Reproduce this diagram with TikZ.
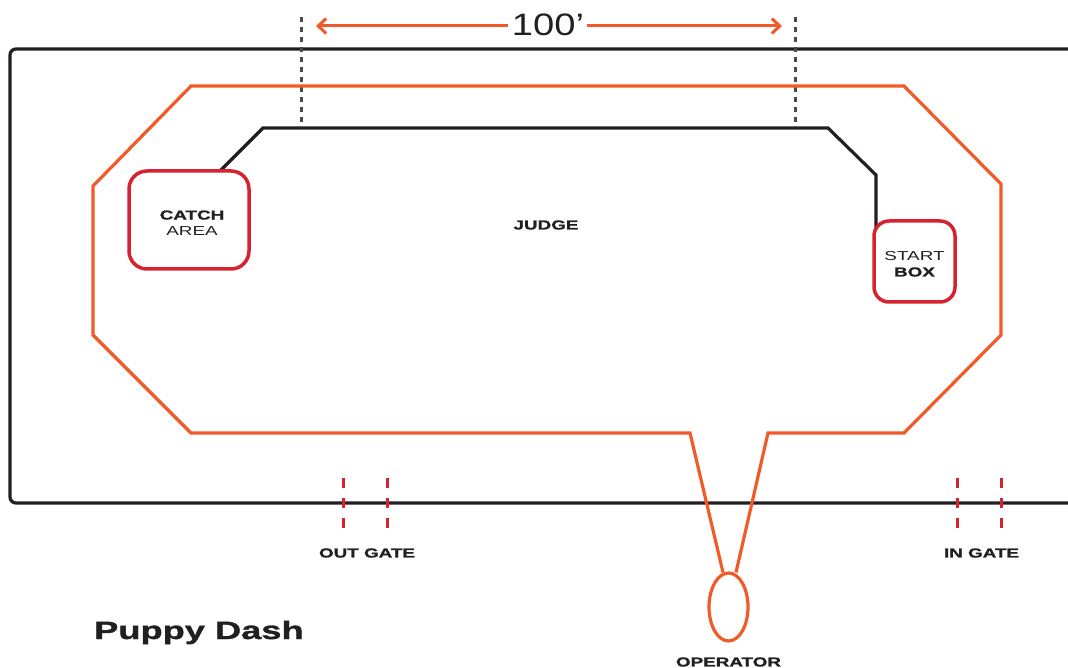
\documentclass[tikz,border=0pt]{standalone}
\usepackage{fontspec}
\setmainfont{Liberation Sans}
\newfontfamily\wide{Liberation Sans}[FakeStretch=1.45,BoldFeatures={FakeBold=1.2}]
\newfontfamily\widenum{Liberation Sans}[FakeStretch=1.23]
\usetikzlibrary{arrows.meta,shapes.geometric}
\definecolor{courseorange}{HTML}{F15A29}
\definecolor{boxred}{HTML}{D6232F}
\definecolor{ink}{HTML}{231F20}
\definecolor{dotgray}{HTML}{4A4A4A}
\begin{document}
\begin{tikzpicture}[x=1pt,y=-1pt,
  fieldline/.style={draw=ink,line width=3.2pt},
  courseline/.style={draw=courseorange,line width=3.2pt,line join=miter},
  lureline/.style={draw=ink,line width=3.2pt,line join=miter},
  areabox/.style={draw=boxred,line width=3.5pt,rounded corners=18pt,fill=white,inner sep=0pt},
  boxtext/.style={align=center,text=ink,inner sep=0pt,font=\wide\fontsize{13}{16}\selectfont},
  dotline/.style={draw=dotgray,line width=3pt,dash pattern=on 5pt off 5pt},
  gateline/.style={draw=boxred,line width=3pt,dash pattern=on 10pt off 10pt},
  lbl/.style={text=ink,inner sep=0pt,font=\wide\bfseries\fontsize{13}{16}\selectfont},
  dimarrow/.style={draw=courseorange,line width=3pt,-{Straight Barb[length=8pt,width=15pt]}}
]
\useasboundingbox (0,0) rectangle (1068,668);
\fill[white] (0,0) rectangle (1068,668);
\clip (0,0) rectangle (1068,668);

% field fence
\draw[fieldline,rounded corners=6pt] (1090,49) -- (10,49) -- (10,503) -- (1090,503);

% dimension guides
\coordinate (g1t) at (301,17); \coordinate (g1b) at (301,128);
\coordinate (g2t) at (795,17); \coordinate (g2b) at (795,128);
\draw[dotline] (g1t) -- (g1b);
\draw[dotline] (g2t) -- (g2b);

% box outlines (named, for the lure line)
\coordinate (catch) at (189,220);
\coordinate (start) at (914.5,261.5);
\coordinate (l0) at (220,171);
\coordinate (l1) at (263,128);
\coordinate (l2) at (828,128);
\coordinate (l3) at (876,175);
\coordinate (l4) at (876,240);
\draw[lureline] (l0) -- (l1) -- (l2) -- (l3) -- (l4);

\node[areabox,minimum width=120pt,minimum height=98pt] (catchbox) at (catch) {};
\node[areabox,rounded corners=15pt,minimum width=81pt,minimum height=81pt] (startbox) at (start) {};
\node[boxtext] (catchtxt) at (192,223) {{\bfseries CATCH}\\AREA};
\node[boxtext] (starttxt) at (914.5,264) {START\\{\bfseries BOX}};

% operator
\node[draw=courseorange,line width=3.2pt,ellipse,minimum width=39pt,minimum height=68pt,inner sep=0pt] (op) at (728.5,607) {};

% course
\coordinate (c1) at (690,433);
\coordinate (c2) at (191,433);
\coordinate (c3) at (93,335);
\coordinate (c4) at (93,186);
\coordinate (c5) at (191,86);
\coordinate (c6) at (904,86);
\coordinate (c7) at (1001,184);
\coordinate (c8) at (1001,335);
\coordinate (c9) at (904,433);
\coordinate (c10) at (768,433);
\draw[courseline] ([xshift=-5.5pt,yshift=-1pt]op.north) -- (c1) -- (c2) -- (c3) -- (c4) -- (c5) -- (c6) -- (c7) -- (c8) -- (c9) -- (c10) -- ([xshift=7.5pt,yshift=-1pt]op.north);

% 100' dimension
\node[text=ink,inner sep=0pt,font=\widenum\fontsize{31}{31}\selectfont] (dim) at (548,25) {100’};
\coordinate (dl) at (316,26);
\coordinate (dr) at (782,26);
\draw[dimarrow] ([xshift=-4pt]dim.west |- dl) -- (dl);
\draw[dimarrow] ([xshift=3pt]dim.east |- dr) -- (dr);

% gates
\foreach \n/\x in {o1/343,o2/387.5,i1/957,i2/1001}{
  \coordinate (\n t) at (\x,478);
  \coordinate (\n b) at (\x,528);
  \draw[gateline] (\n t) -- (\n b);
}

% labels
\node[lbl] (judge) at (546,225) {JUDGE};
\node[lbl] (outgate) at (367,553) {OUT GATE};
\node[lbl] (ingate) at (981.5,553) {IN GATE};
\node[lbl] (oplbl) at (728.5,662) {OPERATOR};
\node[text=ink,inner sep=0pt,anchor=base west,font=\wide\bfseries\fontsize{25}{25}\selectfont] (title) at (94,639) {Puppy Dash};
\end{tikzpicture}
\end{document}
